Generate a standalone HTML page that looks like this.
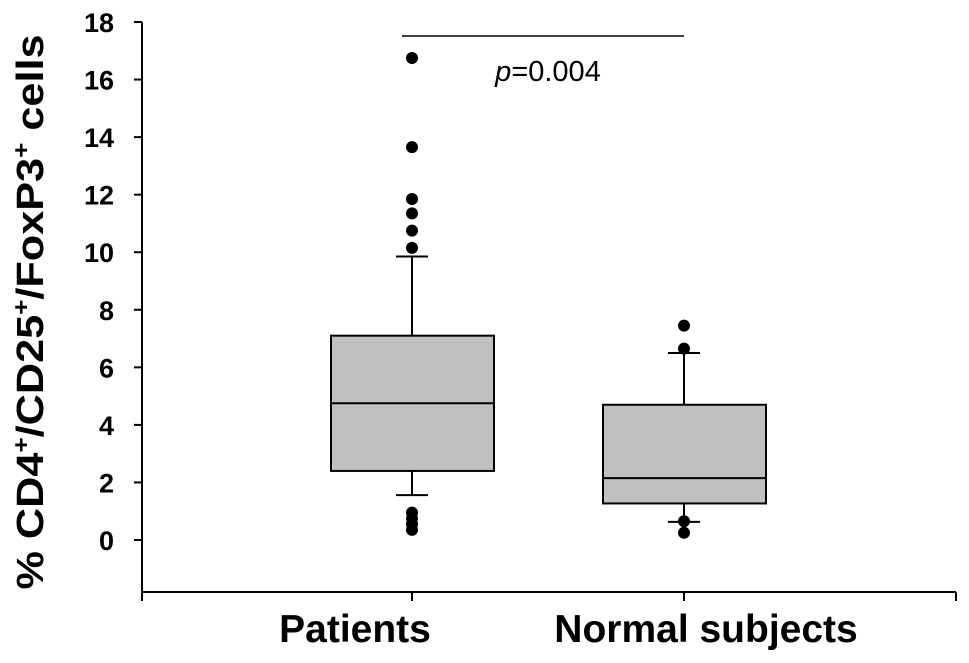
<!DOCTYPE html>
<html><head><meta charset="utf-8"><style>
body{margin:0;background:#fff;}
svg{display:block;font-family:"Liberation Sans",Arial,sans-serif;}
</style></head><body>
<svg id="chart" width="969" height="663" viewBox="0 0 969 663"></svg>
<script>
const categories=["Patients","Normal subjects"];
const q1=[2.4,1.27];
const medians=[4.75,2.15];
const q3=[7.1,4.7];
const whiskLo=[1.56,0.63];
const whiskHi=[9.85,6.5];
const outliersPatients=[16.75,13.65,11.85,11.35,10.75,10.15,0.95,0.75,0.55,0.35];
const outliersNormal=[7.45,6.65,0.65,0.25];
const yTicks=[0,2,4,6,8,10,12,14,16,18];
const pText="=0.004";

const NS="http://www.w3.org/2000/svg";
const svg=document.getElementById('chart');
function y(v){return 540-(v)*(518/18);}
const catX=[412,684];
const labelX=[355,706];
const boxHalf=81;
function el(tag,attrs,parent){const e=document.createElementNS(NS,tag);for(const k in attrs)e.setAttribute(k,attrs[k]);(parent||svg).appendChild(e);return e;}

let a=el('line',{x1:142,y1:22,x2:142,y2:592,stroke:'#000','stroke-width':2});


a=el('line',{x1:142,y1:592,x2:956,y2:592,stroke:'#000','stroke-width':2});


[142,956].forEach(x=>{el('line',{x1:x,y1:592,x2:x,y2:601,stroke:'#000','stroke-width':2});});
yTicks.forEach(v=>{
  const t=el('line',{x1:134,y1:y(v),x2:142,y2:y(v),stroke:'#000','stroke-width':2});
  
  
  const tx=el('text',{x:114,y:y(v)+10,'text-anchor':'end','font-size':27,'font-weight':'bold'});
  tx.textContent=v;
  
  
});
const yt=el('text',{transform:'translate(43,312) rotate(-90)','text-anchor':'middle','font-size':38,'font-weight':'bold',textLength:555,lengthAdjust:'spacingAndGlyphs'});


yt.innerHTML='% CD4<tspan dy="-14" font-size="23">+</tspan><tspan dy="14">/CD25</tspan><tspan dy="-14" font-size="23">+</tspan><tspan dy="14">/FoxP3</tspan><tspan dy="-14" font-size="23">+</tspan><tspan dy="14"> cells</tspan>';

const outs=[outliersPatients,outliersNormal];
categories.forEach((c,i)=>{
  const cx=catX[i];
  const g=el('g',{});
  
  
  el('line',{x1:cx,y1:592,x2:cx,y2:601,stroke:'#000','stroke-width':2},g);
  el('line',{x1:cx,y1:y(whiskHi[i]),x2:cx,y2:y(whiskLo[i]),stroke:'#000','stroke-width':2},g);
  el('line',{x1:cx-16,y1:y(whiskHi[i]),x2:cx+16,y2:y(whiskHi[i]),stroke:'#000','stroke-width':2},g);
  el('line',{x1:cx-16,y1:y(whiskLo[i]),x2:cx+16,y2:y(whiskLo[i]),stroke:'#000','stroke-width':2},g);
  el('rect',{x:cx-boxHalf,y:y(q3[i]),width:boxHalf*2+1,height:y(q1[i])-y(q3[i]),fill:'#c0c0c0',stroke:'#000','stroke-width':2},g);
  el('line',{x1:cx-boxHalf,y1:y(medians[i]),x2:cx+boxHalf+1,y2:y(medians[i]),stroke:'#000','stroke-width':2},g);
  outs[i].forEach(v=>{
    const d=el('circle',{cx:cx,cy:y(v),r:6,fill:'#000'},g);
    
    
  });
  const lb=el('text',{x:labelX[i],y:642,'text-anchor':'middle','font-size':39,'font-weight':'bold'});
  lb.textContent=c;
  
  
});
const sl=el('line',{x1:402,y1:36,x2:684,y2:36,stroke:'#000','stroke-width':1.5});


const pt=el('text',{x:548,y:81,'text-anchor':'middle','font-size':29});
pt.innerHTML='<tspan font-style="italic">p</tspan>'+pText;


</script>
</body></html>
